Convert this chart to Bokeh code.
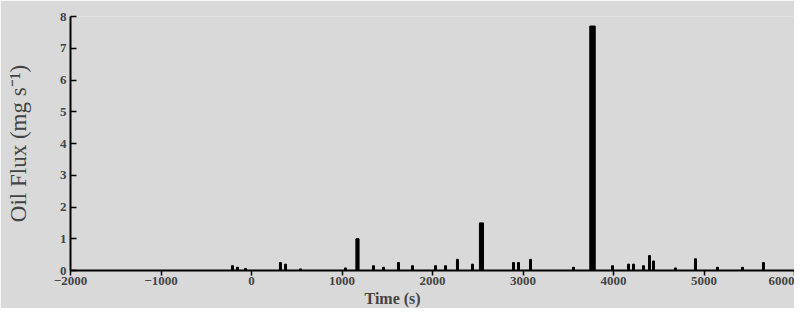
from bokeh.plotting import figure
from bokeh.models import Range1d, FixedTicker, ColumnDataSource, Title
from bokeh.embed import file_html
from bokeh.resources import INLINE

# Time (s) of each flux event and its oil flux (mg s^-1)
times = [-210, -155, -66, 320, 376, 541, 1039, 1171, 1348, 1459, 1624, 1779, 2033,
         2144, 2276, 2442, 2541, 2895, 2950, 3083, 3558, 3768, 3989, 4166, 4221,
         4331, 4398, 4442, 4685, 4906, 5149, 5425, 5657]
flux = [0.15, 0.10, 0.06, 0.25, 0.20, 0.05, 0.08, 1.0, 0.15, 0.10, 0.25, 0.15, 0.15,
        0.15, 0.35, 0.20, 1.5, 0.25, 0.25, 0.35, 0.10, 7.7, 0.15, 0.20, 0.20,
        0.15, 0.47, 0.30, 0.08, 0.37, 0.10, 0.10, 0.25]
x_ticks = [-2000, -1000, 0, 1000, 2000, 3000, 4000, 5000, 6000]
y_ticks = [0, 1, 2, 3, 4, 5, 6, 7, 8]

widths = [60 if f > 5 else (45 if f > 1.2 else (35 if f >= 1 else 22)) for f in flux]
src = ColumnDataSource(dict(t=times, f=flux, w=widths))

BG = "#d9d9d9"
FONT = "Liberation Serif"

p = figure(width=794, height=308, output_backend="svg", toolbar_location=None,
           x_range=Range1d(-2000, 6000), y_range=Range1d(0, 8),
           min_border_left=70, min_border_right=0, min_border_top=16, min_border_bottom=38)
p.background_fill_color = BG
p.border_fill_color = BG
p.outline_line_color = None
p.grid.visible = False

p.vbar(x="t", top="f", width="w", bottom=0, source=src, color="black")

xa = p.xaxis[0]
xa.ticker = FixedTicker(ticks=x_ticks)
xa.minor_tick_line_color = None
xa.major_tick_in = 0
xa.major_tick_out = 5
xa.axis_line_width = 2
xa.major_tick_line_width = 1.5
xa.major_label_text_font = FONT
xa.major_label_text_font_size = "13px"
xa.major_label_text_font_style = "bold"
xa.major_label_standoff = 1

ya = p.yaxis[0]
ya.ticker = FixedTicker(ticks=y_ticks)
ya.minor_tick_line_color = None
ya.major_tick_in = 6
ya.major_tick_out = 0
ya.axis_line_width = 2
ya.major_tick_line_width = 1.5
ya.major_label_text_font = FONT
ya.major_label_text_font_size = "13px"
ya.major_label_text_font_style = "bold"
ya.major_label_standoff = 4
ya.axis_label = "Oil Flux (mg s\u207b\u00b9)"
ya.axis_label_text_font = FONT
ya.axis_label_text_font_size = "23px"
ya.axis_label_text_font_style = "normal"
ya.axis_label_standoff = 26

xt = Title(text="Time (s)", align="left", offset=294, text_font=FONT,
           text_font_size="16px", text_font_style="bold", standoff=0)
p.add_layout(xt, "below")

open("out.html", "w").write(file_html(p, INLINE))
